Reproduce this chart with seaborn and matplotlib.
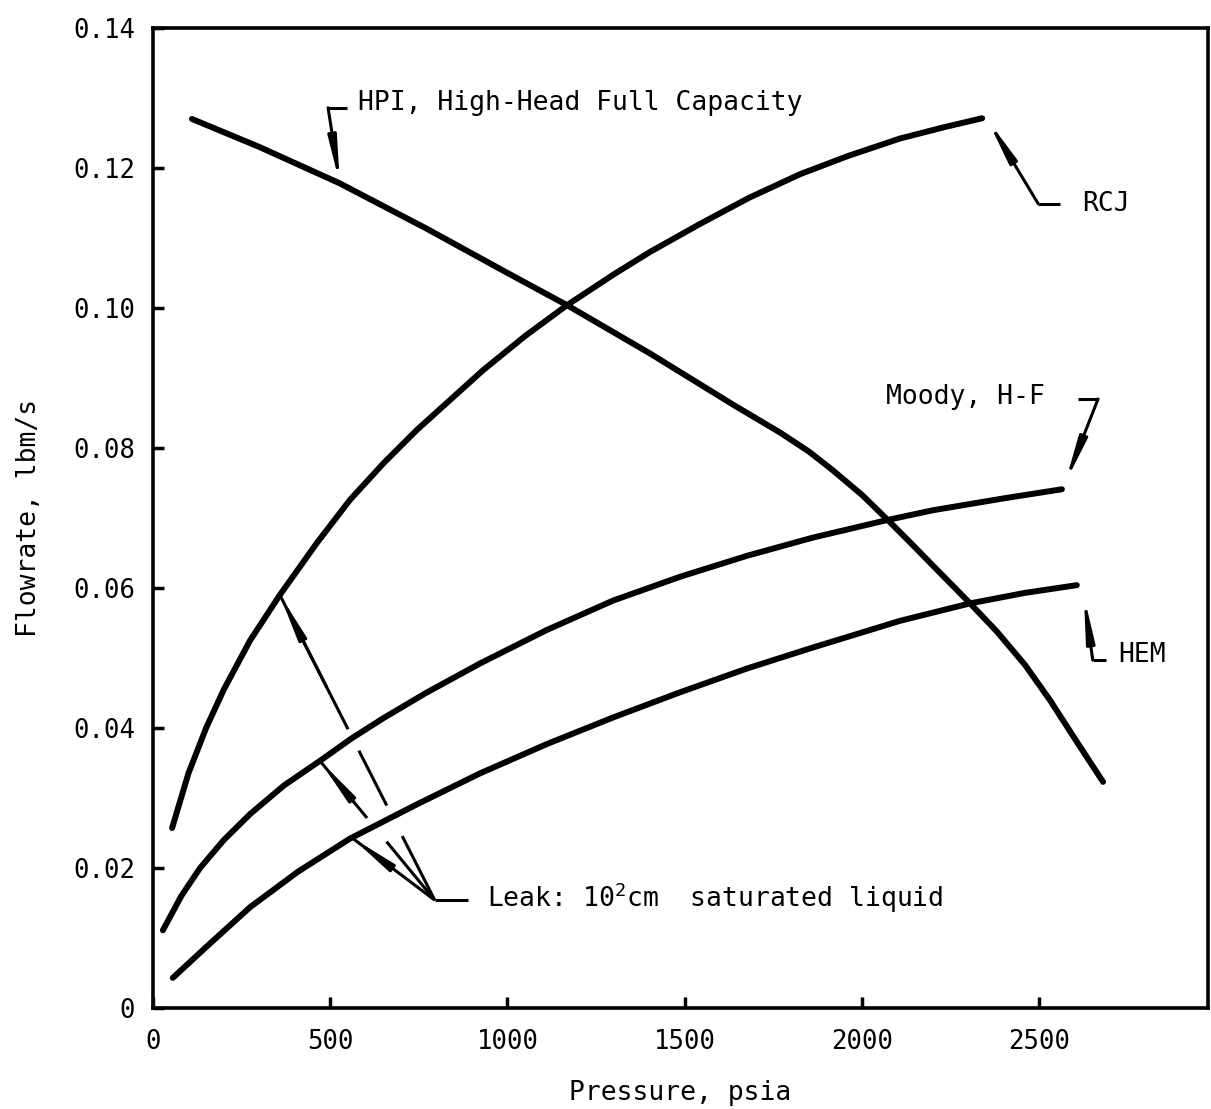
import numpy as np
import pandas as pd
import matplotlib
matplotlib.use("Agg")
import matplotlib.pyplot as plt
import seaborn as sns

# ---- curve data: pressure (psia) and flowrate (lbm/s) ----
HPI_P = [110, 300, 527, 773, 1000, 1168, 1402, 1636, 1769, 1850, 1918, 2000, 2073, 2140, 2200,
         2305, 2380, 2460, 2530, 2600, 2680]
HPI_F = [0.1270, 0.1230, 0.1178, 0.1113, 0.1050, 0.1004, 0.0935, 0.0862, 0.0822, 0.0795, 0.0768,
         0.0733, 0.0697, 0.0663, 0.0632, 0.0578, 0.0538, 0.0490, 0.0440, 0.0385, 0.0323]

RCJ_P = [54, 100, 150, 200, 274, 358, 462, 556, 650, 745, 931, 1050, 1168, 1300, 1402, 1543,
         1680, 1825, 1960, 2107, 2230, 2339]
RCJ_F = [0.0257, 0.0335, 0.0400, 0.0455, 0.0525, 0.0590, 0.0664, 0.0726, 0.0778, 0.0826, 0.0911,
         0.0960, 0.1004, 0.1048, 0.1080, 0.1120, 0.1157, 0.1191, 0.1217, 0.1242, 0.1258, 0.1271]

MOODY_P = [28, 80, 133, 200, 274, 370, 471, 560, 650, 770, 922, 1111, 1298, 1487, 1676, 1862,
           2071, 2200, 2400, 2564]
MOODY_F = [0.0111, 0.0160, 0.0200, 0.0240, 0.0277, 0.0318, 0.0353, 0.0385, 0.0414, 0.0450, 0.0492,
           0.0540, 0.0582, 0.0616, 0.0646, 0.0672, 0.0697, 0.0711, 0.0728, 0.0741]

HEM_P = [56, 150, 274, 410, 556, 745, 922, 1111, 1298, 1487, 1676, 1862, 2107, 2305, 2460, 2606]
HEM_F = [0.0043, 0.0087, 0.0144, 0.0195, 0.0242, 0.0291, 0.0335, 0.0377, 0.0415, 0.0451, 0.0485,
         0.0515, 0.0553, 0.0578, 0.0593, 0.0604]

X_TICKS = [0, 500, 1000, 1500, 2000, 2500]
X_TICK_LABELS = ["0", "500", "1000", "1500", "2000", "2500"]
Y_TICKS = [0, 0.02, 0.04, 0.06, 0.08, 0.10, 0.12, 0.14]
Y_TICK_LABELS = ["0", "0.02", "0.04", "0.06", "0.08", "0.10", "0.12", "0.14"]

series = {"HPI": (HPI_P, HPI_F), "RCJ": (RCJ_P, RCJ_F),
          "Moody": (MOODY_P, MOODY_F), "HEM": (HEM_P, HEM_F)}
df = pd.concat([pd.DataFrame({"pressure": p, "flow": f, "model": name})
                for name, (p, f) in series.items()], ignore_index=True)

sns.set_theme(style="ticks")
plt.rcParams["font.family"] = ["DejaVu Sans Mono", "DejaVu Sans"]
plt.rcParams["mathtext.fontset"] = "custom"
plt.rcParams["mathtext.rm"] = "DejaVu Sans Mono"

fig = plt.figure(figsize=(12.11, 11.09), dpi=100)
ax = fig.add_axes([0.1263, 0.0911, 0.8712, 0.8837])

sns.lineplot(data=df, x="pressure", y="flow", hue="model", units="model", estimator=None,
             palette={k: "black" for k in series}, linewidth=4.3, legend=False,
             solid_capstyle="round", solid_joinstyle="round", ax=ax)

ax.set_xlim(0, 2976)
ax.set_ylim(0, 0.14)
ax.set_xticks(X_TICKS)
ax.set_xticklabels(X_TICK_LABELS)
ax.set_yticks(Y_TICKS)
ax.set_yticklabels(Y_TICK_LABELS)
ax.tick_params(direction="in", length=8, width=2.5, labelsize=18.5, colors="black")
ax.tick_params(axis="x", pad=15)
ax.tick_params(axis="y", pad=13)
for sp in ax.spines.values():
    sp.set_visible(True)
    sp.set_linewidth(2.6)
    sp.set_color("black")
ax.set_xlabel("Pressure, psia", fontsize=19, labelpad=18, color="black")
ax.set_ylabel("Flowrate, lbm/s", fontsize=19, labelpad=22, color="black")

ARROW = dict(arrowstyle="-|>,head_length=2.5,head_width=0.24", lw=2.2, color="black",
             shrinkA=0, shrinkB=0, mutation_scale=10)
LEAD = dict(color="black", lw=2.2, solid_capstyle="butt")
TXT = dict(fontsize=19, color="black", va="center")


def on_curve(name, p):
    xs, ys = series[name]
    return (p, float(np.interp(p, xs, ys)))


def leader(tip, bend, tail):
    ax.plot([tail[0], bend[0]], [tail[1], bend[1]], **LEAD)
    ax.annotate("", xy=tip, xytext=bend, arrowprops=ARROW)


# HPI label
leader(on_curve("HPI", 527), (494, 0.1286), (547, 0.1286))
ax.text(578, 0.1293, "HPI, High-Head Full Capacity", ha="left", **TXT)

# RCJ label
leader((RCJ_P[-1] + 15, RCJ_F[-1] - 0.0002), (2497, 0.1149), (2559, 0.1149))
ax.text(2621, 0.1149, "RCJ", ha="left", **TXT)

# Moody label
leader((MOODY_P[-1] + 9, MOODY_F[-1] + 0.0009), (2666, 0.0870), (2609, 0.0870))
ax.text(2516, 0.0873, "Moody, H-F", ha="right", **TXT)

# HEM label
leader((HEM_P[-1] + 20, HEM_F[-1] - 0.0015), (2651, 0.0497), (2688, 0.0497))
ax.text(2722, 0.0504, "HEM", ha="left", **TXT)

# Leak label: three leaders converge at a hub, broken where they cross other curves
hub = (795, 0.0154)
ax.plot([hub[0], 889], [hub[1], hub[1]], **LEAD)
ax.text(942, 0.0157, "Leak: 10$^2$cm  saturated liquid", ha="left", **TXT)

leak_legs = [("RCJ", 358, [(0.0, 0.44), (0.51, 0.69), (0.79, 1.0)]),
             ("Moody", 471, [(0.0, 0.41), (0.58, 1.0)]),
             ("HEM", 561, [(0.0, 1.0)])]
for name, p, pieces in leak_legs:
    tip = np.array(on_curve(name, p))
    end = np.array(hub)
    for i, (t0, t1) in enumerate(pieces):
        a = tip + t0 * (end - tip)
        b = tip + t1 * (end - tip)
        ax.plot([a[0], b[0]], [a[1], b[1]], **LEAD)
        if i == 0:
            mid = tip + min(t1, 0.3) * (end - tip)
            ax.annotate("", xy=tuple(tip), xytext=tuple(mid), arrowprops=ARROW)

fig.savefig("out.png", dpi=100, facecolor="white")
